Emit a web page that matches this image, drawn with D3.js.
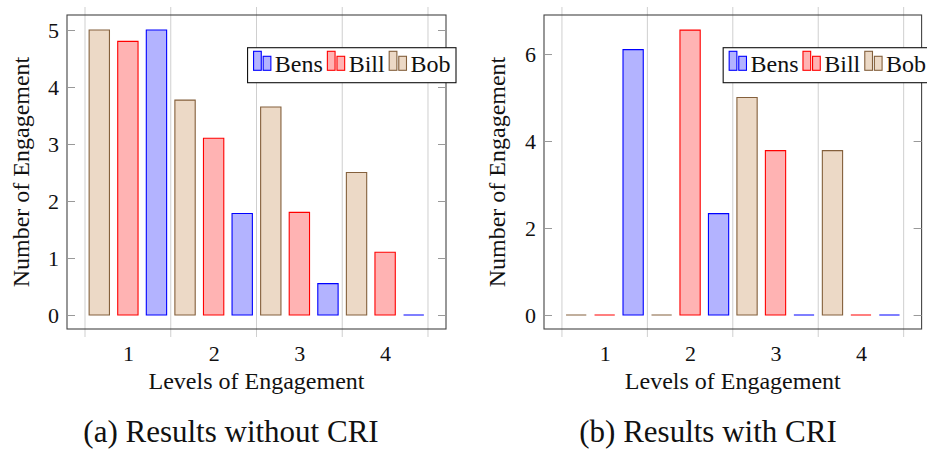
<!DOCTYPE html>
<html lang="en">
<head>
<meta charset="utf-8">
<title>Levels of Engagement</title>
<script src="https://d3js.org/d3.v7.min.js"></script>
<style>
body { margin: 0; background-color: #fff; }
</style>
</head>
<body>
<svg id="chart" width="927" height="449"></svg>
<script>
// values
var levels = [1, 2, 3, 4];
var seriesNames = ["Bens", "Bill", "Bob"];
var bensWithout = [5, 1.78, 0.55, 0];
var billWithout = [4.8, 3.1, 1.8, 1.1];
var bobWithout = [5, 3.77, 3.65, 2.5];
var bensWith = [6.1, 2.33, 0, 0];
var billWith = [0, 6.55, 3.78, 0];
var bobWith = [0, 0, 5, 3.78];
var yTicksWithout = [0, 1, 2, 3, 4, 5];
var yTicksWith = [0, 2, 4, 6];
var gridAt = [0.5, 1.5, 2.5, 3.5, 4.5];
var xLabel = "Levels of Engagement";
var yLabel = "Number of Engagement";
var captions = ["(a) Results without CRI", "(b) Results with CRI"];

var fills = { Bens: "#b3b3ff", Bill: "#ffb3b3", Bob: "#ecd9c6" };
var strokes = { Bens: "#0000ff", Bill: "#ff0000", Bob: "#84603c" };
var offsets = { Bob: -1 / 3, Bill: 0, Bens: 1 / 3 };
var FONT = '"Liberation Serif", "Times New Roman", serif';

var svg = d3.select("#chart");

function drawPanel(p) {
	var x = d3.scaleLinear().domain([0.29, 4.71]).range([p.left, p.right]);
	var y = d3.scaleLinear().domain(p.yDomain).range([p.bottom, p.top]);
	var g = svg.append("g");

	// vertical grid, sticks out past the frame
	g.selectAll("line.grid")
		.data(gridAt)
		.enter()
		.append("line")
		.attr("class", "grid")
		.attr("x1", function(d) { return x(d); })
		.attr("x2", function(d) { return x(d); })
		.attr("y1", p.top - 8)
		.attr("y2", p.bottom + 8)
		.attr("stroke", "#cfcfcf")
		.attr("stroke-width", 1);

	// bars (paths so that zero bars still show as a line)
	var bw = 0.237;
	seriesNames.forEach(function(name) {
		g.selectAll("path.bar-" + name)
			.data(p.series[name])
			.enter()
			.append("path")
			.attr("class", "bar-" + name)
			.attr("d", function(d, i) {
				var c = levels[i] + offsets[name];
				var x0 = x(c - bw / 2), x1 = x(c + bw / 2);
				return "M" + x0 + "," + y(0) + "H" + x1 + "V" + y(d) + "H" + x0 + "Z";
			})
			.attr("fill", fills[name])
			.attr("stroke", strokes[name])
			.attr("stroke-width", 1.1);
	});

	// frame
	g.append("rect")
		.attr("x", p.left)
		.attr("y", p.top)
		.attr("width", p.right - p.left)
		.attr("height", p.bottom - p.top)
		.attr("fill", "none")
		.attr("stroke", "#444")
		.attr("stroke-width", 1.1);

	// y ticks inside, labels outside
	var yAxis = g.append("g")
		.attr("transform", "translate(" + p.left + ",0)")
		.call(d3.axisLeft(y).tickValues(p.yTicks).tickFormat(d3.format("d"))
			.tickSizeInner(-8).tickSizeOuter(0).tickPadding(8));
	var yAxisR = g.append("g")
		.attr("transform", "translate(" + p.right + ",0)")
		.call(d3.axisRight(y).tickValues(p.yTicks).tickSizeInner(-8).tickSizeOuter(0).tickFormat(""));
	[yAxis, yAxisR].forEach(function(a) {
		a.select(".domain").remove();
		a.selectAll("line").attr("stroke", "#999");
	});
	yAxis.selectAll("text")
		.style("font-family", FONT)
		.style("font-size", "22px")
		.attr("fill", "#111");

	var xAxis = g.append("g")
		.attr("transform", "translate(0," + p.bottom + ")")
		.call(d3.axisBottom(x).tickValues(levels).tickFormat(d3.format("d")).tickSize(0).tickPadding(16));
	xAxis.select(".domain").remove();
	xAxis.selectAll("text")
		.style("font-family", FONT)
		.style("font-size", "22px")
		.attr("fill", "#111");

	// axis labels
	g.append("text")
		.attr("x", (p.left + p.right) / 2)
		.attr("y", 389)
		.attr("text-anchor", "middle")
		.style("font-family", FONT)
		.style("font-size", "24px")
		.attr("fill", "#111")
		.text(xLabel);

	g.append("text")
		.attr("transform", "translate(" + p.yLabelX + "," + (p.top + p.bottom) / 2 + ") rotate(-90)")
		.attr("text-anchor", "middle")
		.attr("dominant-baseline", "central")
		.style("font-family", FONT)
		.style("font-size", "24px")
		.attr("fill", "#111")
		.text(yLabel);

	// caption
	g.append("text")
		.attr("x", p.captionX)
		.attr("y", 442)
		.attr("text-anchor", "middle")
		.style("font-family", FONT)
		.style("font-size", "31px")
		.attr("fill", "#111")
		.text(p.caption);

	// legend, anchored a little past the right edge of the frame
	var lg = g.append("g").attr("transform", "translate(0," + p.top + ")");
	var box = lg.append("rect")
		.attr("y", 32.7)
		.attr("height", 35)
		.attr("fill", "#fff")
		.attr("stroke", "#111")
		.attr("stroke-width", 1.1);
	var cx = 6;
	var items = lg.append("g");
	seriesNames.forEach(function(name) {
		var it = items.append("g").attr("transform", "translate(" + cx + ",0)");
		it.selectAll("rect")
			.data([19, 14])
			.enter()
			.append("rect")
			.attr("x", function(d, i) { return i * 9.6; })
			.attr("y", function(d) { return 55.3 - d; })
			.attr("width", 7.7)
			.attr("height", function(d) { return d; })
			.attr("fill", fills[name])
			.attr("stroke", strokes[name])
			.attr("stroke-width", 1.1);
		var t = it.append("text")
			.attr("x", 21.3)
			.attr("y", 56.7)
			.style("font-family", FONT)
			.style("font-size", "24px")
			.attr("fill", "#111")
			.text(name);
		cx += 21.3 + t.node().getComputedTextLength() + 4.5;
	});
	var bwid = cx + 1;
	var bx = p.right + 10 - bwid;
	box.attr("x", bx).attr("width", bwid);
	items.attr("transform", "translate(" + bx + ",0)");
}

drawPanel({
	left: 67, right: 446, top: 15, bottom: 329,
	yDomain: [-0.2456, 5.2632], yTicks: yTicksWithout,
	series: { Bens: bensWithout, Bill: billWithout, Bob: bobWithout },
	yLabelX: 21, caption: captions[0], captionX: 231
});
drawPanel({
	left: 544, right: 921.6, top: 15, bottom: 329,
	yDomain: [-0.322, 6.897], yTicks: yTicksWith,
	series: { Bens: bensWith, Bill: billWith, Bob: bobWith },
	yLabelX: 497, caption: captions[1], captionX: 708
});
</script>
</body>
</html>
